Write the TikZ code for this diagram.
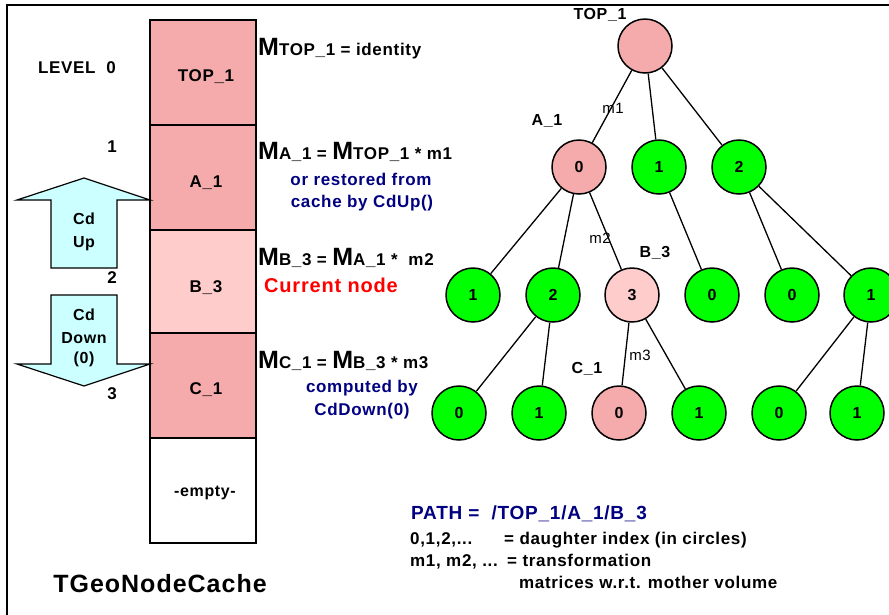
\documentclass[tikz,border=0pt]{standalone}
\usepackage{fontspec}
\setmainfont[LetterSpace=4]{Liberation Sans}
\definecolor{hpink}{HTML}{F5ABAB}
\definecolor{spink}{HTML}{FFCCCC}
\definecolor{lgreen}{HTML}{00FF00}
\definecolor{lcyan}{HTML}{CCFFFF}
\definecolor{navyblue}{HTML}{000080}
\newcommand{\Mbig}{{\fontsize{25}{25}\selectfont M}}
\begin{document}
\begin{tikzpicture}[x=1pt,y=-1pt,
  txt/.style={inner sep=0, anchor=base, font=\fontsize{17}{17}\selectfont\bfseries},
  txtw/.style={txt, anchor=base west},
  blue/.style={txt, text=navyblue},
  thin/.style={inner sep=0, anchor=base, font=\fontsize{15}{15}\selectfont},
  hatched/.style={fill=hpink},
  cell/.style={draw, line width=1.5pt},
  arr/.style={draw, line width=1.2pt, fill=lcyan},
  tnode/.style={circle, draw, line width=1.5pt, minimum size=54pt, inner sep=0,
    font=\fontsize{16}{16}\selectfont\bfseries},
  gnode/.style={tnode, fill=lgreen},
  edge/.style={line width=1.3pt}]
\useasboundingbox (0,0) rectangle (889,614);
% frame
\draw[line width=2pt] (900,5) -- (7,5) -- (7,625);
% stack
\path[cell, hatched] (150,20) rectangle (256,125);
\path[cell, hatched] (150,125) rectangle (256,230);
\path[cell, fill=spink] (150,230) rectangle (256,333);
\path[cell, hatched] (150,333) rectangle (256,438);
\path[cell, fill=white] (150,438) rectangle (256,543);
\node[txt] (sTop) at (206,81) {TOP\_1};
\node[txt] (sA) at (206,187) {A\_1};
\node[txt] (sB) at (206,292) {B\_3};
\node[txt] (sC) at (206,394) {C\_1};
\node[txt, font=\fontsize{16}{16}\selectfont\bfseries] (sE) at (205,496) {-empty-};
% levels
\node[txt] (lv0) at (77,73) {LEVEL\ \ 0};
\node[txt] (lv1) at (112,152) {1};
\node[txt] (lv2) at (112,283) {2};
\node[txt] (lv3) at (112,399) {3};
% arrows
\path[arr] (84,178) -- (150,200) -- (117,200) -- (117,268) -- (51,268) -- (51,200) -- (17,200) -- cycle;
\path[arr] (51,295) -- (117,295) -- (117,364) -- (150,364) -- (84,386) -- (17,364) -- (51,364) -- cycle;
\node[txt, font=\fontsize{16}{16}\selectfont\bfseries] (up1) at (84,224) {Cd};
\node[txt, font=\fontsize{16}{16}\selectfont\bfseries] (up2) at (84,247) {Up};
\node[txt, font=\fontsize{16}{16}\selectfont\bfseries] (dn1) at (84,320) {Cd};
\node[txt, font=\fontsize{16}{16}\selectfont\bfseries] (dn2) at (84,343) {Down};
\node[txt, font=\fontsize{16}{16}\selectfont\bfseries] (dn3) at (84,363) {(0)};
% equations
\node[txtw] (eq1) at (258,55) {\Mbig TOP\_1 = identity};
\node[txtw] (eq2) at (258,159) {\Mbig A\_1 = \Mbig TOP\_1 * m1};
\node[blue] (eq2a) at (361,185) {or restored from};
\node[blue] (eq2b) at (362,207) {cache by CdUp()};
\node[txtw] (eq3) at (258,265) {\Mbig B\_3 = \Mbig A\_1 *\ \ m2};
\node[txt, text=red, font=\fontsize{20}{20}\selectfont\bfseries] (cur) at (331,292) {Current node};
\node[txtw] (eq4) at (258,368) {\Mbig C\_1 = \Mbig B\_3 * m3};
\node[blue] (eq4a) at (362,392) {computed by};
\node[blue] (eq4b) at (362,415) {CdDown(0)};
% tree
\node[tnode, hatched] (T) at (645,46) {};
\node[tnode, hatched] (a0) at (579,167) {0};
\node[gnode] (a1) at (659,167) {1};
\node[gnode] (a2) at (739,167) {2};
\node[gnode] (b1) at (473,295) {1};
\node[gnode] (b2) at (553,295) {2};
\node[tnode, fill=spink] (b3) at (632,295) {3};
\node[gnode] (b4) at (712,295) {0};
\node[gnode] (b5) at (792,295) {0};
\node[gnode] (b6) at (871,295) {1};
\node[gnode] (c1) at (459,413) {0};
\node[gnode] (c2) at (539,413) {1};
\node[tnode, hatched] (c3) at (619,413) {0};
\node[gnode] (c4) at (699,413) {1};
\node[gnode] (c5) at (779,413) {0};
\node[gnode] (c6) at (857,413) {1};
\foreach \p/\c in {T/a0,T/a1,T/a2,a0/b1,a0/b2,a0/b3,a1/b4,a2/b5,a2/b6,b2/c1,b2/c2,b3/c3,b3/c4,b6/c5,b6/c6}
  \draw[edge] (\p) -- (\c);
\node[txt, font=\fontsize{16}{16}\selectfont\bfseries] (tTop) at (600,19) {TOP\_1};
\node[txt, font=\fontsize{16}{16}\selectfont\bfseries] (tA) at (547,125) {A\_1};
\node[thin] (m1) at (613,113) {m1};
\node[thin] (m2) at (600,243) {m2};
\node[txt, font=\fontsize{16}{16}\selectfont\bfseries] (tB) at (655,257) {B\_3};
\node[txt, font=\fontsize{16}{16}\selectfont\bfseries] (tC) at (587,373) {C\_1};
\node[thin] (m3) at (640,360) {m3};
% bottom
\node[txt, font=\fontsize{25}{25}\selectfont\bfseries] (title) at (160,592) {TGeoNodeCache};
\node[txtw, text=navyblue, font=\fontsize{19}{19}\selectfont\bfseries] (path) at (411,519) {PATH =\ \ /TOP\_1/A\_1/B\_3};
\node[txtw] (lg1) at (410,544) {0,1,2,...};
\node[txtw] (lg1b) at (504,544) {= daughter index (in circles)};
\node[txtw] (lg2) at (410,566) {m1, m2, ...};
\node[txtw] (lg2b) at (507,566) {= transformation};
\node[txtw] (lg3) at (519,588) {matrices w.r.t. mother volume};
\end{tikzpicture}
\end{document}
